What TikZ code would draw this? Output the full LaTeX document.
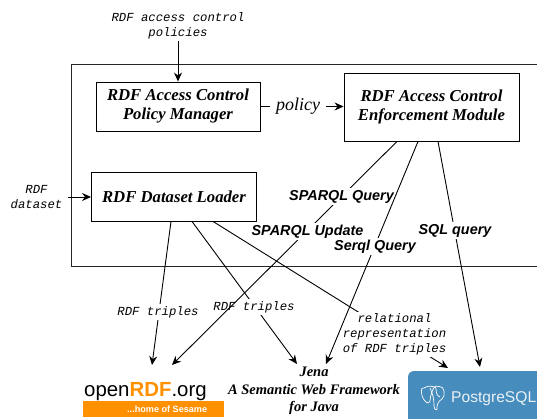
\documentclass[tikz,border=0pt]{standalone}
\usepackage{fontspec}
\setmainfont{Liberation Serif}
\setsansfont{Liberation Sans}
\setmonofont{Liberation Mono}
\usetikzlibrary{arrows.meta}
\definecolor{rdforange}{RGB}{255,145,0}
\definecolor{pgblue}{RGB}{70,140,188}
\tikzset{
  x=1pt,y=-1pt,
  box/.style={draw=black,line width=0.9pt,fill=white,align=center,inner sep=0pt,
    font=\fontsize{16.7}{19}\selectfont\bfseries\itshape},
  conn/.style={draw=black,line width=0.9pt},
  arr/.style={conn,-{Stealth[length=9pt,width=8pt,inset=3pt]}},
  mono/.style={align=center,inner xsep=1pt,inner ysep=2pt,font=\fontsize{12.3}{14.7}\selectfont\ttfamily\itshape},
  monofill/.style={mono,fill=white},
  qlabel/.style={fill=white,inner sep=2pt,font=\fontsize{14.4}{16}\selectfont\sffamily\bfseries\itshape},
}
\begin{document}
\begin{tikzpicture}
\useasboundingbox (0,0) rectangle (537,419);
% outer frame
\draw[line width=0.9pt,draw=black!85] (537,64) -- (71,64) -- (71,266) -- (537,266);
% boxes
\node[box,minimum width=164pt,minimum height=49pt] (mgr) at (178,106.5) {RDF Access Control\\Policy Manager};
\node[box,minimum width=175pt,minimum height=68pt] (enf) at (431.5,107) {RDF Access Control\\Enforcement Module};
\node[box,minimum width=165pt,minimum height=49pt] (ldr) at (174,196.5) {RDF Dataset Loader};
% endpoints
\coordinate (tipA) at (152,365);
\coordinate (tipB) at (172,365);
\coordinate (tipC) at (297,364);
\coordinate (tipD) at (326,364);
\coordinate (tipE) at (448,368);
\coordinate (tipF) at (480,367);
\coordinate (dsin) at (68,197);
% top and left inputs
\node[mono] (pol) at (178,25.5) {RDF access control\\policies};
\draw[arr] (pol.south) -- (mgr.north);
\node[mono] (ds) at (36.5,197) {RDF\\dataset};
\draw[arr] (dsin) -- (ldr.west |- dsin);
% policy
\draw[arr] (mgr.east) -- (enf.west |- mgr.east);
\node[fill=white,inner sep=6pt,font=\fontsize{18}{20}\selectfont\itshape] (polabel) at (298,106) {policy};
% loader lines
\draw[arr] (ldr.south -| 171,0) -- (tipA);
\node[monofill] (t1) at (158,312) {RDF triples};
\draw[arr] (ldr.south -| 192,0) -- (tipC);
\node[monofill] (t2) at (254,307) {RDF triples};
\draw[arr] (ldr.south -| 213,0) -- (tipE);
\node[monofill] (rel) at (394.5,334.5) {relational\\representation\\of RDF triples};
% enforcement lines
\draw[arr] (enf.south -| 397,0) -- (tipB);
\node[qlabel] (sq) at (341.5,196.7) {SPARQL Query};
\node[qlabel] (su) at (307.5,231.5) {SPARQL Update};
\draw[arr] (enf.south -| 418,0) -- (tipD);
\node[qlabel] (se) at (375,246.5) {Serql Query};
\draw[arr] (enf.south -| 438,0) -- (tipF);
\node[qlabel] (sql) at (455,230.5) {SQL query};
% Jena
\node[align=center,inner sep=0pt,font=\fontsize{14.5}{17.3}\selectfont\bfseries\itshape] (jena) at (314,391)
  {Jena\\A Semantic Web Framework\\for Java};
% openRDF logo
\node[anchor=base west,inner sep=0pt,font=\fontsize{20.4}{24}\selectfont\sffamily] (ordf) at (84,396)
  {open\textcolor{rdforange}{\bfseries RDF}.org};
\fill[rdforange] (82.5,401) rectangle (224,416.5);
\node[anchor=west,inner sep=0pt,text=white,font=\fontsize{9.1}{10}\selectfont\sffamily\bfseries] (home) at (127,409) {...home of Sesame};
% PostgreSQL logo
\begin{scope}
\clip (0,0) rectangle (537,419);
\fill[pgblue,rounded corners=6pt] (408,371) rectangle (560,430);
\node[anchor=west,inner sep=0pt,text=white!88!pgblue,font=\fontsize{15.6}{18}\selectfont\sffamily] (pg) at (451,398.5) {PostgreSQL};
\draw[white,line width=0.7pt,rounded corners=2pt]
  (424,388) .. controls (420,386) and (421,396) .. (425,401)
  .. controls (427,403) and (430,404) .. (430,399)
  .. controls (433,386) and (436,386) .. (438,387)
  .. controls (444,386) and (446,395) .. (441,400)
  .. controls (438,402) and (437,406) .. (438,408)
  .. controls (436,411) and (434,409) .. (434,405);
\draw[white,line width=0.7pt] (424,388) .. controls (428,385) and (433,386) .. (436,388)
  (430,388) .. controls (433,394) and (434,400) .. (434,405)
  (436,388) .. controls (436,393) and (437,396) .. (440,397);
\end{scope}
\end{tikzpicture}
\end{document}
